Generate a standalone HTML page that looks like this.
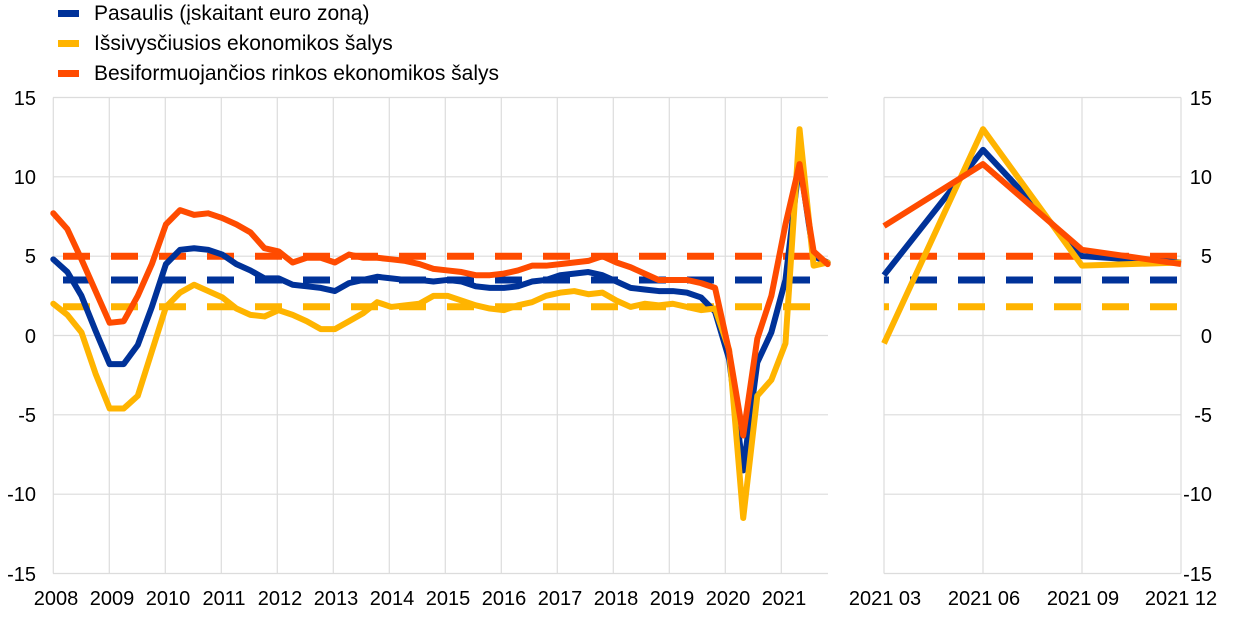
<!DOCTYPE html>
<html><head><meta charset="utf-8"><style>
body{margin:0;background:#fff;}
svg text{font-family:"Liberation Sans",sans-serif;fill:#000;}
</style></head><body>
<svg width="1240" height="615" viewBox="0 0 1240 615" xmlns="http://www.w3.org/2000/svg">
<rect x="58" y="10" width="21" height="7" fill="#003299"/>
<rect x="58" y="40" width="21" height="7" fill="#FFB400"/>
<rect x="58" y="70" width="21" height="7" fill="#FF4B00"/>
<text x="94" y="20" font-size="21">Pasaulis (įskaitant euro zoną)</text>
<text x="94" y="50" font-size="21">Išsivysčiusios ekonomikos šalys</text>
<text x="94" y="80" font-size="21">Besiformuojančios rinkos ekonomikos šalys</text>
<g stroke="#dcdcdc" stroke-width="1.2">
<line x1="53" y1="97.5" x2="828" y2="97.5"/><line x1="53" y1="176.8" x2="828" y2="176.8"/><line x1="53" y1="256.2" x2="828" y2="256.2"/>
<line x1="53" y1="335.5" x2="828" y2="335.5"/><line x1="53" y1="414.8" x2="828" y2="414.8"/><line x1="53" y1="494.2" x2="828" y2="494.2"/><line x1="53" y1="573.5" x2="828" y2="573.5"/>
<line x1="53.3" y1="97.5" x2="53.3" y2="573.5"/><line x1="109.3" y1="97.5" x2="109.3" y2="573.5"/><line x1="165.3" y1="97.5" x2="165.3" y2="573.5"/><line x1="221.3" y1="97.5" x2="221.3" y2="573.5"/><line x1="277.3" y1="97.5" x2="277.3" y2="573.5"/><line x1="333.3" y1="97.5" x2="333.3" y2="573.5"/><line x1="389.3" y1="97.5" x2="389.3" y2="573.5"/><line x1="445.3" y1="97.5" x2="445.3" y2="573.5"/><line x1="501.3" y1="97.5" x2="501.3" y2="573.5"/><line x1="557.3" y1="97.5" x2="557.3" y2="573.5"/><line x1="613.3" y1="97.5" x2="613.3" y2="573.5"/><line x1="669.3" y1="97.5" x2="669.3" y2="573.5"/><line x1="725.3" y1="97.5" x2="725.3" y2="573.5"/><line x1="781.3" y1="97.5" x2="781.3" y2="573.5"/>
<line x1="884" y1="97.5" x2="1181" y2="97.5"/><line x1="884" y1="176.8" x2="1181" y2="176.8"/><line x1="884" y1="256.2" x2="1181" y2="256.2"/>
<line x1="884" y1="335.5" x2="1181" y2="335.5"/><line x1="884" y1="414.8" x2="1181" y2="414.8"/><line x1="884" y1="494.2" x2="1181" y2="494.2"/><line x1="884" y1="573.5" x2="1181" y2="573.5"/>
<line x1="884" y1="97.5" x2="884" y2="573.5"/><line x1="983" y1="97.5" x2="983" y2="573.5"/><line x1="1082" y1="97.5" x2="1082" y2="573.5"/><line x1="1181" y1="97.5" x2="1181" y2="573.5"/>
</g>
<g font-size="20" text-anchor="end">
<text x="36" y="105">15</text><text x="36" y="184">10</text><text x="36" y="263">5</text><text x="36" y="343">0</text><text x="36" y="422">-5</text><text x="36" y="501">-10</text><text x="36" y="581">-15</text>
<text x="1212" y="105">15</text><text x="1212" y="184">10</text><text x="1212" y="263">5</text><text x="1212" y="343">0</text><text x="1212" y="422">-5</text><text x="1212" y="501">-10</text><text x="1212" y="581">-15</text>
</g>
<g font-size="20" text-anchor="middle">
<text x="56" y="605">2008</text><text x="112" y="605">2009</text><text x="168" y="605">2010</text><text x="224" y="605">2011</text><text x="280" y="605">2012</text><text x="336" y="605">2013</text><text x="392" y="605">2014</text><text x="448" y="605">2015</text><text x="504" y="605">2016</text><text x="560" y="605">2017</text><text x="616" y="605">2018</text><text x="672" y="605">2019</text><text x="728" y="605">2020</text><text x="784" y="605">2021</text>
<text x="885" y="605">2021 03</text><text x="984" y="605">2021 06</text><text x="1083" y="605">2021 09</text><text x="1181" y="605">2021 12</text>
</g>
<g stroke-width="7" stroke-dasharray="27,21" fill="none">
<line x1="63" y1="256.2" x2="818" y2="256.2" stroke="#FF4B00"/>
<line x1="63" y1="280" x2="818" y2="280" stroke="#003299"/>
<line x1="63" y1="306.7" x2="818" y2="306.7" stroke="#FFB400"/>
<line x1="884" y1="256.2" x2="1182" y2="256.2" stroke="#FF4B00" stroke-dashoffset="22"/>
<line x1="884" y1="280" x2="1182" y2="280" stroke="#003299" stroke-dashoffset="22"/>
<line x1="884" y1="306.7" x2="1182" y2="306.7" stroke="#FFB400" stroke-dashoffset="22"/>
</g>
<g transform="translate(53.3,335.5) scale(14.08,-15.87)" fill="none" stroke-width="6" stroke-linejoin="round" stroke-linecap="round">
<polyline vector-effect="non-scaling-stroke" stroke="#003299" points="0,4.8 1,4.0 2,2.5 3,0.3 4,-1.8 5,-1.8 6,-0.6 7,1.8 8,4.5 9,5.4 10,5.5 11,5.4 12,5.1 13,4.5 14,4.1 15,3.6 16,3.6 17,3.2 18,3.1 19,3.0 20,2.8 21,3.3 22,3.5 23,3.7 24,3.6 25,3.5 26,3.5 27,3.4 28,3.5 29,3.4 30,3.1 31,3.0 32,3.0 33,3.1 34,3.4 35,3.5 36,3.8 37,3.9 38,4.0 39,3.8 40,3.4 41,3.0 42,2.9 43,2.8 44,2.8 45,2.7 46,2.4 47,1.5 48,-1.5 49,-8.5 50,-1.7 51,0.2 52,3.5 53,11.0 54,5.0 55,4.6"/>
<polyline vector-effect="non-scaling-stroke" stroke="#FFB400" points="0,2.0 1,1.3 2,0.2 3,-2.4 4,-4.6 5,-4.6 6,-3.8 7,-1.0 8,1.8 9,2.7 10,3.2 11,2.8 12,2.4 13,1.7 14,1.3 15,1.2 16,1.6 17,1.3 18,0.9 19,0.4 20,0.4 21,0.9 22,1.4 23,2.1 24,1.8 25,1.9 26,2.0 27,2.5 28,2.5 29,2.2 30,1.9 31,1.7 32,1.6 33,1.9 34,2.1 35,2.5 36,2.7 37,2.8 38,2.6 39,2.7 40,2.2 41,1.8 42,2.0 43,1.9 44,2.0 45,1.8 46,1.6 47,1.7 48,-0.9 49,-11.5 50,-3.8 51,-2.8 52,-0.5 53,13.0 54,4.4 55,4.6"/>
<polyline vector-effect="non-scaling-stroke" stroke="#FF4B00" points="0,7.7 1,6.7 2,4.8 3,2.8 4,0.8 5,0.9 6,2.5 7,4.5 8,7.0 9,7.9 10,7.6 11,7.7 12,7.4 13,7.0 14,6.5 15,5.5 16,5.3 17,4.6 18,4.9 19,4.9 20,4.6 21,5.1 22,4.9 23,4.9 24,4.8 25,4.7 26,4.5 27,4.2 28,4.1 29,4.0 30,3.8 31,3.8 32,3.9 33,4.1 34,4.4 35,4.4 36,4.5 37,4.6 38,4.7 39,5.0 40,4.6 41,4.3 42,3.9 43,3.5 44,3.5 45,3.5 46,3.3 47,3.0 48,-1.0 49,-6.3 50,-0.2 51,2.5 52,7.0 53,10.8 54,5.3 55,4.5"/>
</g>
<g transform="translate(884,335.5) scale(99,-15.87)" fill="none" stroke-width="6" stroke-linejoin="round">
<polyline vector-effect="non-scaling-stroke" stroke="#003299" points="0,3.8 1,11.7 2,5.0 3,4.6"/>
<polyline vector-effect="non-scaling-stroke" stroke="#FFB400" points="0,-0.5 1,13.0 2,4.4 3,4.6"/>
<polyline vector-effect="non-scaling-stroke" stroke="#FF4B00" points="0,6.9 1,10.8 2,5.4 3,4.5"/>
</g>
</svg>
</body></html>
